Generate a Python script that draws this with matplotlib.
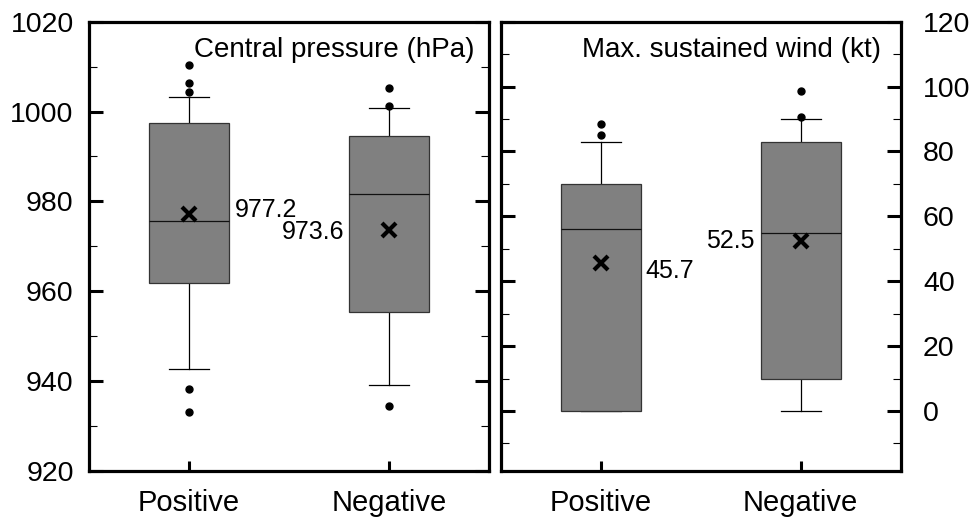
import matplotlib
matplotlib.use("Agg")
import matplotlib.pyplot as plt
from matplotlib.ticker import MultipleLocator

plt.rcParams['font.family'] = ['Liberation Sans', 'DejaVu Sans']

groups = ['Positive', 'Negative']

# central pressure (hPa)
pres_q1 = [961.9, 955.3]
pres_med = [975.6, 981.6]
pres_q3 = [997.5, 994.6]
pres_lo = [942.6, 939.1]
pres_hi = [1003.2, 1000.8]
pres_mean = [977.2, 973.6]
pres_fliers = [[1010.4, 1006.3, 1004.3, 938.3, 933.1], [1005.3, 1001.3, 934.3]]

# max sustained wind (kt)
wind_q1 = [0, 10]
wind_med = [56, 55]
wind_q3 = [70, 83]
wind_lo = [0, 0]
wind_hi = [83, 90]
wind_mean = [45.7, 52.5]
wind_fliers = [[85, 88.5], [90.5, 98.5]]

label_offsets = [(33, 3, 'left'), (-32, -1.5, 'right')]
label_offsets_w = [(32, -6, 'left'), (-33, 0, 'right')]


def make_stats(q1, med, q3, lo, hi, mean, fliers):
    out = []
    for i in range(len(q1)):
        out.append(dict(q1=q1[i], med=med[i], q3=q3[i], whislo=lo[i], whishi=hi[i],
                        mean=mean[i], fliers=fliers[i], label=groups[i]))
    return out


def draw(ax, stats, means, offsets):
    ax.bxp(stats, positions=[1, 2], widths=0.4, patch_artist=True, showmeans=True,
           capwidths=0.2,
           boxprops=dict(facecolor='#808080', edgecolor='#333333', linewidth=0.9, zorder=3),
           medianprops=dict(color='#111111', linewidth=0.9, zorder=4),
           whiskerprops=dict(color='black', linewidth=0.9),
           capprops=dict(color='black', linewidth=0.9),
           flierprops=dict(marker='o', markerfacecolor='black', markeredgecolor='black', markersize=5),
           meanprops=dict(marker='x', markeredgecolor='black', markersize=10.5, markeredgewidth=3,
                          zorder=5))
    for i, m in enumerate(means):
        dx, dy, ha = offsets[i]
        ax.annotate(f"{m:.1f}", xy=(i + 1, m), xytext=(dx, dy), textcoords='offset points',
                    ha=ha, va='center', fontsize=18)
    ax.set_xlim(0.5, 2.5)
    ax.set_xticks([1, 2])
    ax.set_xticklabels(groups)
    for s in ax.spines.values():
        s.set_linewidth(2.3)
    ax.tick_params(axis='both', which='major', direction='in', length=10, width=2.2, labelsize=20.5)
    ax.tick_params(axis='y', which='minor', direction='in', length=6, width=0.8)
    ax.tick_params(axis='x', which='major', length=7, pad=13.5, labelsize=21)
    ax.tick_params(axis='y', left=True, right=True, which='both')


fig = plt.figure(figsize=(9.77, 5.18), dpi=100)
ax1 = fig.add_axes([0.0911, 0.0913, 0.4094, 0.8668])
ax2 = fig.add_axes([0.5125, 0.0913, 0.4094, 0.8668])

draw(ax1, make_stats(pres_q1, pres_med, pres_q3, pres_lo, pres_hi, pres_mean, pres_fliers),
     pres_mean, label_offsets)
ax1.set_ylim(920, 1020)
ax1.yaxis.set_major_locator(MultipleLocator(20))
ax1.yaxis.set_minor_locator(MultipleLocator(10))
ax1.tick_params(axis='y', labelleft=True, labelright=False, pad=11)
ax1.text(0.963, 0.922, 'Central pressure (hPa)', transform=ax1.transAxes,
         ha='right', va='baseline', fontsize=20)

draw(ax2, make_stats(wind_q1, wind_med, wind_q3, wind_lo, wind_hi, wind_mean, wind_fliers),
     wind_mean, label_offsets_w)
ax2.set_ylim(-18.4, 120)
ax2.yaxis.set_major_locator(MultipleLocator(20))
ax2.yaxis.set_minor_locator(MultipleLocator(10))
ax2.tick_params(axis='y', labelleft=False, labelright=True, pad=16)
ax2.text(0.951, 0.922, 'Max. sustained wind (kt)', transform=ax2.transAxes,
         ha='right', va='baseline', fontsize=20)

fig.savefig('out.png', dpi=100)
